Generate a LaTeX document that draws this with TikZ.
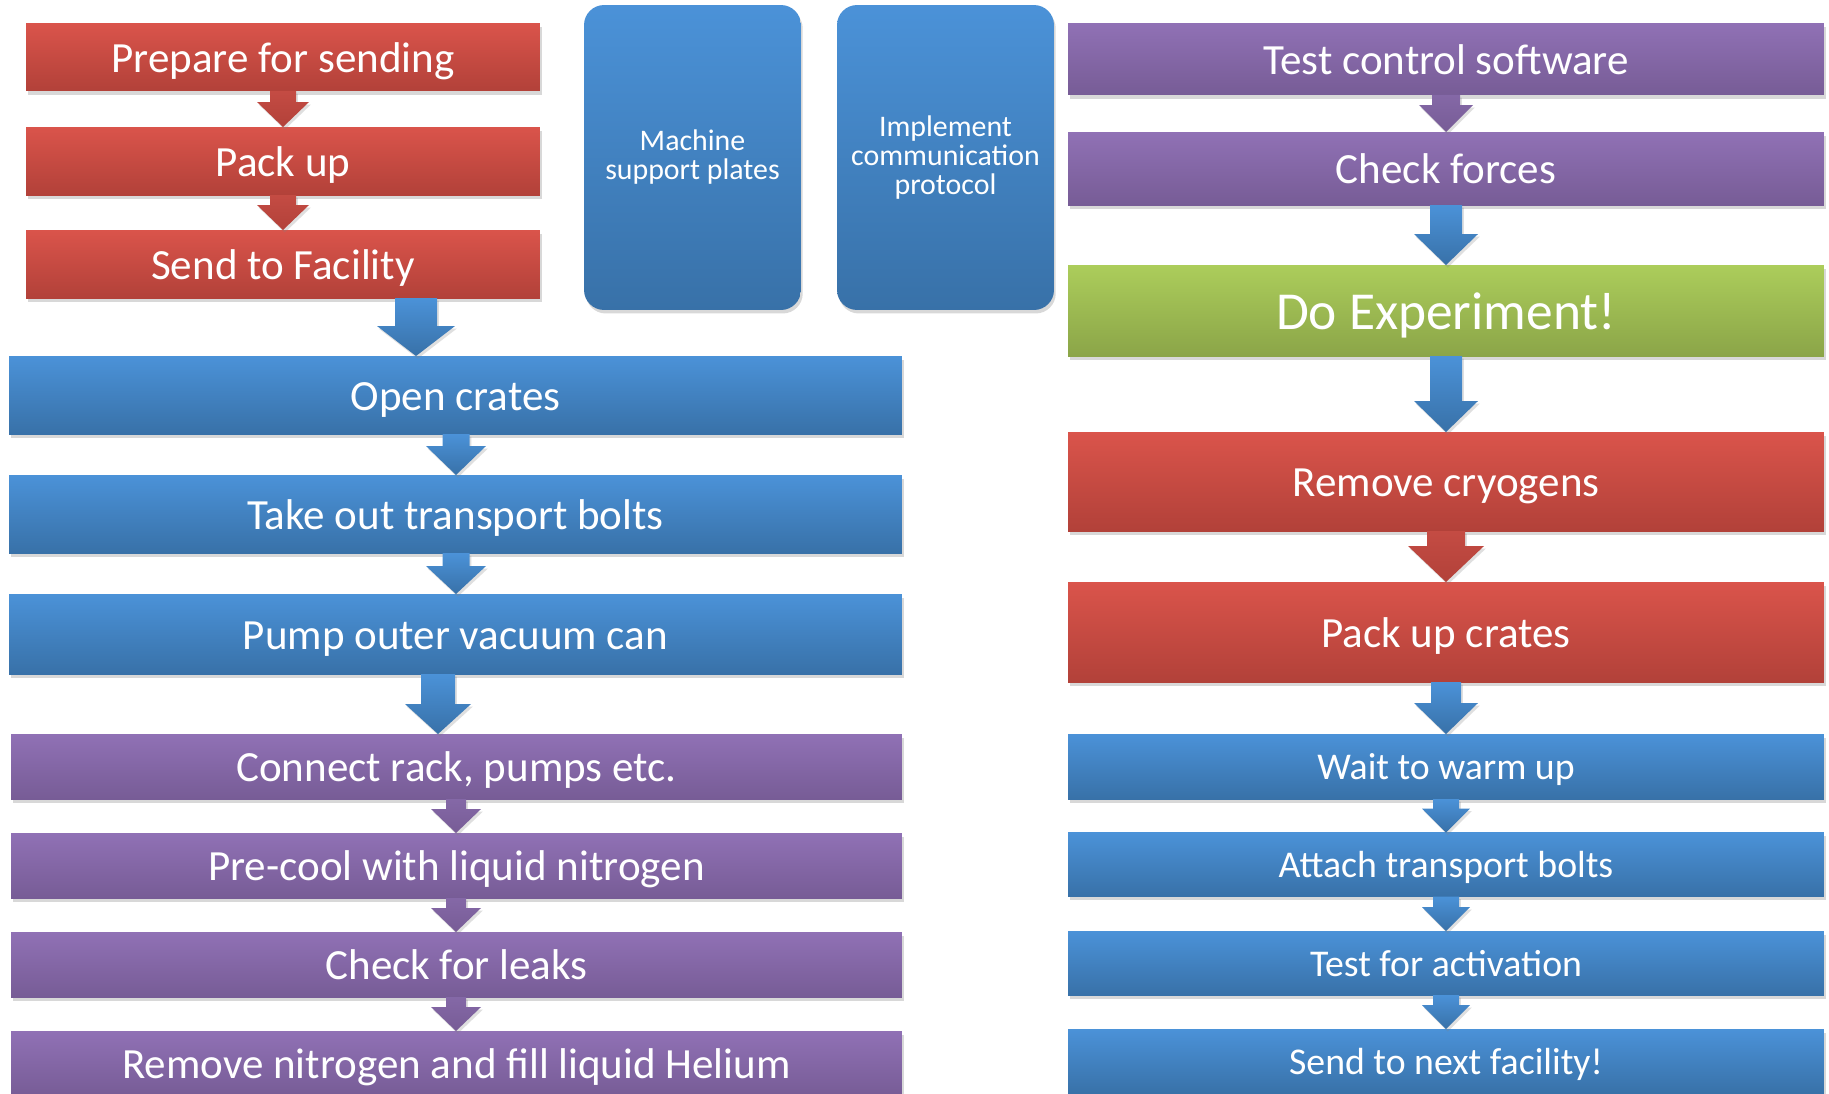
\documentclass[tikz,border=0pt]{standalone}
\usepackage{fontspec}
\setmainfont{Carlito}
\usetikzlibrary{calc,shadows}

\definecolor{redtop}{RGB}{218,84,75}
\definecolor{redbot}{RGB}{178,65,57}
\definecolor{bluetop}{RGB}{75,146,216}
\definecolor{bluebot}{RGB}{56,113,168}
\definecolor{purptop}{RGB}{144,113,181}
\definecolor{purpbot}{RGB}{119,92,150}
\definecolor{greentop}{RGB}{172,205,91}
\definecolor{greenbot}{RGB}{139,165,72}

\tikzset{
  stage/.style={rectangle, inner sep=0pt, outer sep=0pt, text=white, align=center,
    drop shadow={opacity=0.3, shadow xshift=1pt, shadow yshift=-2pt}},
  redbox/.style={stage, top color=redtop, bottom color=redbot},
  bluebox/.style={stage, top color=bluetop, bottom color=bluebot},
  purpbox/.style={stage, top color=purptop, bottom color=purpbot},
  greenbox/.style={stage, top color=greentop, bottom color=greenbot},
  tallbox/.style={bluebox, rounded corners=0.4cm, minimum width=4.34cm, minimum height=6.1cm,
    font=\fontsize{17}{16.5}\selectfont},
  redarr/.style={top color=redtop!90!black, bottom color=redbot,
    drop shadow={opacity=0.25, shadow xshift=1pt, shadow yshift=-1.5pt}},
  bluearr/.style={top color=bluetop, bottom color=bluebot,
    drop shadow={opacity=0.25, shadow xshift=1pt, shadow yshift=-1.5pt}},
  purparr/.style={top color=purptop!92!black, bottom color=purpbot,
    drop shadow={opacity=0.25, shadow xshift=1pt, shadow yshift=-1.5pt}},
  big/.style={font=\fontsize{24.5}{28}\selectfont, text height=23.3pt, text depth=6.1pt},
  small/.style={font=\fontsize{21.5}{25}\selectfont, text height=20.4pt, text depth=5.4pt},
  huge/.style={font=\fontsize{30.4}{34}\selectfont, text height=28.9pt, text depth=7.6pt}
}

% style, from, to, x, shaft half width, head half width, head length
\newcommand{\flowarr}[7]{%
  \coordinate (ax) at (#4,0);
  \coordinate (as) at (#2.south -| ax);
  \coordinate (at) at (#3.north -| ax);
  \shade[#1] ($(as)+(-#5,0)$) -- ($(as)+(#5,0)$) -- ($(at)+(#5,-#7)$) -- ($(at)+(#6,-#7)$)
    -- (at) -- ($(at)+(-#6,-#7)$) -- ($(at)+(-#5,-#7)$) -- cycle;
}

\begin{document}
\begin{tikzpicture}[x=0.02cm,y=-0.02cm]
\clip (0,0) rectangle (1829,1093);
\fill[white] (0,0) rectangle (1829,1093);

\node[redbox,big,minimum width=10.28cm,minimum height=1.36cm] (prep) at (283,57) {Prepare for sending};
\node[redbox,big,minimum width=10.28cm,minimum height=1.36cm] (packup) at (283,161) {Pack up};
\node[redbox,big,minimum width=10.28cm,minimum height=1.36cm] (send) at (283,264) {Send to Facility};

\node[tallbox] (machine) at (692.5,157.5) {Machine\\support plates};
\node[tallbox] (protocol) at (945.5,157.5) {Implement\\communication\\protocol};

\node[bluebox,big,minimum width=17.86cm,minimum height=1.56cm] (open) at (455.5,395) {Open crates};
\node[bluebox,big,minimum width=17.86cm,minimum height=1.56cm] (bolts) at (455.5,514) {Take out transport bolts};
\node[bluebox,big,minimum width=17.86cm,minimum height=1.6cm] (pump) at (455.5,634) {Pump outer vacuum can};

\node[purpbox,big,minimum width=17.82cm,minimum height=1.3cm] (connect) at (456.5,766.5) {Connect rack, pumps etc.};
\node[purpbox,big,minimum width=17.82cm,minimum height=1.3cm] (precool) at (456.5,865.5) {Pre-cool with liquid nitrogen};
\node[purpbox,big,minimum width=17.82cm,minimum height=1.3cm] (leaks) at (456.5,964.5) {Check for leaks};
\node[purpbox,big,minimum width=17.82cm,minimum height=1.3cm] (fill) at (456.5,1063.5) {Remove nitrogen and fill liquid Helium};

\node[purpbox,big,minimum width=15.12cm,minimum height=1.44cm] (testsw) at (1446,59) {Test control software};
\node[purpbox,big,minimum width=15.12cm,minimum height=1.46cm] (forces) at (1446,168.5) {Check forces};
\node[greenbox,huge,minimum width=15.12cm,minimum height=1.82cm] (exp) at (1446,310.5) {Do Experiment!};
\node[redbox,big,minimum width=15.12cm,minimum height=1.98cm] (cryo) at (1446,481.5) {Remove cryogens};
\node[redbox,big,minimum width=15.12cm,minimum height=2cm] (crates) at (1446,632) {Pack up crates};
\node[bluebox,small,minimum width=15.12cm,minimum height=1.3cm] (warm) at (1446,766.5) {Wait to warm up};
\node[bluebox,small,minimum width=15.12cm,minimum height=1.28cm] (attach) at (1446,864.5) {Attach transport bolts};
\node[bluebox,small,minimum width=15.12cm,minimum height=1.28cm] (activ) at (1446,963) {Test for activation};
\node[bluebox,small,minimum width=15.12cm,minimum height=1.3cm] (nextfac) at (1446,1061.5) {Send to next facility!};

\flowarr{redarr}{prep}{packup}{283}{13}{26}{25}
\flowarr{redarr}{packup}{send}{283}{13}{26}{25}
\flowarr{bluearr}{send}{open}{416}{21}{39}{30}
\flowarr{bluearr}{open}{bolts}{456}{13.5}{30}{29}
\flowarr{bluearr}{bolts}{pump}{456}{13.5}{30}{28}
\flowarr{bluearr}{pump}{connect}{438}{17}{33}{30}
\flowarr{purparr}{connect}{precool}{456}{10}{25}{24}
\flowarr{purparr}{precool}{leaks}{456}{10}{25}{24}
\flowarr{purparr}{leaks}{fill}{456}{10}{25}{24}

\flowarr{purparr}{testsw}{forces}{1446}{14}{27}{27}
\flowarr{bluearr}{forces}{exp}{1446}{16}{32}{31}
\flowarr{bluearr}{exp}{cryo}{1446}{16}{32}{31}
\flowarr{redarr}{cryo}{crates}{1446}{19}{38}{36}
\flowarr{bluearr}{crates}{warm}{1446}{15}{32}{31}
\flowarr{bluearr}{warm}{attach}{1446}{13}{24}{24}
\flowarr{bluearr}{attach}{activ}{1446}{13}{24}{24}
\flowarr{bluearr}{activ}{nextfac}{1446}{13}{24}{24}
\end{tikzpicture}
\end{document}
